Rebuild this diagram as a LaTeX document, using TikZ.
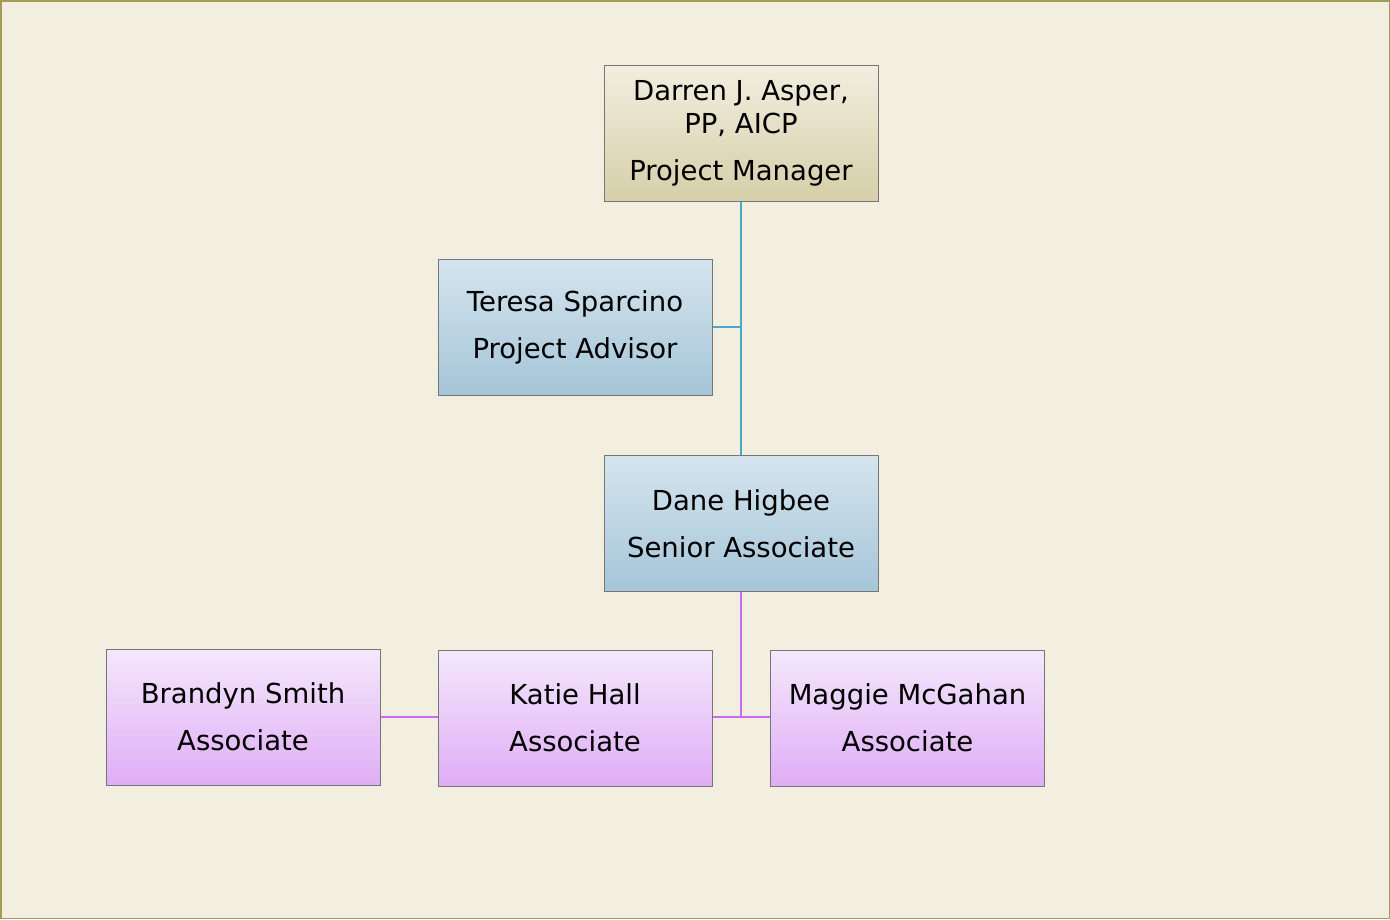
\documentclass[tikz,border=0pt]{standalone}
\usepackage{fontspec}
\setmainfont{DejaVu Sans}
\definecolor{bgc}{HTML}{F2EFE1}
\definecolor{framec}{HTML}{A39C58}
\definecolor{boxline}{HTML}{767676}
\definecolor{tanTop}{HTML}{F1EEDF}
\definecolor{tanBot}{HTML}{D6CFA9}
\definecolor{bluTop}{HTML}{D5E5EE}
\definecolor{bluBot}{HTML}{A5C5D8}
\definecolor{purTop}{HTML}{F4E8FC}
\definecolor{purBot}{HTML}{DFADF5}
\definecolor{blueLine}{HTML}{4BA7C8}
\definecolor{purLine}{HTML}{CC6BEF}
\begin{document}
\begin{tikzpicture}[x=1pt,y=-1pt,
  orgbox/.style={draw=boxline, line width=1pt, minimum width=274pt, minimum height=136pt,
    inner sep=0pt, align=center, font=\fontsize{27.5}{47}\selectfont},
  tanbox/.style={orgbox, top color=tanTop, bottom color=tanBot},
  blubox/.style={orgbox, top color=bluTop, bottom color=bluBot},
  purbox/.style={orgbox, top color=purTop, bottom color=purBot},
  bline/.style={draw=blueLine, line width=2pt},
  pline/.style={draw=purLine, line width=2pt}]
\useasboundingbox (0,0) rectangle (1390,919);
\fill[bgc] (0,0) rectangle (1390,919);
\draw[framec, line width=1.5pt] (0.75,0.75) rectangle (1389.5,918.5);

\node[tanbox] (pm) at (741,133) {Darren J. Asper,\\[-14pt]PP, AICP\\Project Manager};
\node[blubox] (pa) at (575,327) {Teresa Sparcino\\Project Advisor};
\node[blubox] (sa) at (741,523.5) {Dane Higbee\\Senior Associate};
\node[purbox] (bs) at (243,717) {Brandyn Smith\\Associate};
\node[purbox] (kh) at (575,718) {Katie Hall\\Associate};
\node[purbox] (mm) at (907.5,718) {Maggie McGahan\\Associate};

\coordinate (j1) at (741,327);
\coordinate (j2) at (741,717);
\draw[bline] (pm.south) -- (sa.north);
\draw[bline] (pa.east) -- (j1);
\draw[pline] (sa.south) -- (j2);
\draw[pline] (kh.east |- j2) -- (mm.west |- j2);
\draw[pline] (bs.east) -- (kh.west |- bs.east);
\end{tikzpicture}
\end{document}
